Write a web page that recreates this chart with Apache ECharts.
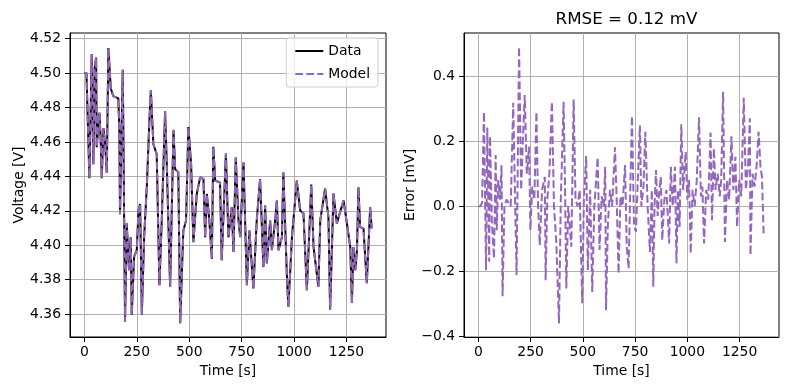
<!DOCTYPE html>
<html>
<head>
<meta charset="utf-8">
<script src="https://cdn.jsdelivr.net/npm/echarts@6/dist/echarts.min.js"></script>
<style>html,body{margin:0;padding:0;background:#fff}#c{width:790px;height:390px}</style>
</head>
<body>
<div id="c"></div>
<script>
// ---- data ----
const timeV = [0,10,19,24,30,35,43,49,56,59,67,72,78,83,91,99,107,114.5,119,126,138,162,167,170,183,186,194,
202,213,221,226,237,250,258,266,274,285,298,310,317,329,345,358,369,385,393,409,425,433,448,457,472,485,496,509,
520,536,552,568,576,584,596,608,615,624,647,655,675,687,703,711,722,735,743,759,775,787,806,822,838,
854,862,870,886,894,910,918,926,942,949,966,973,990,1013,1029,1045,1061,1077,1082,1093,1116,1125,1148,1164,1172,
1188,1204,1236,1252,1268,1276,1283,1292,1300,1307,1315,1331,1347,1363,1370];
const voltageData = [4.500,4.500,4.500,4.439,4.478,4.511,4.447,4.503,4.509,4.457,4.470,4.477,4.461,4.439,4.468,4.459,4.442,4.5146,4.5155,4.491,4.4866,4.4853,4.4664,4.418,4.502,4.466,4.3556,
4.4127,4.3855,4.4047,4.3595,4.3932,4.3971,4.420,4.424,4.3595,4.4047,4.4346,4.472,4.490,4.4587,4.453,4.3768,4.4144,4.478,4.4472,4.3759,4.467,4.4443,4.4423,4.3547,4.4086,4.4144,4.4687,4.4472,
4.4018,4.4298,4.4394,4.4385,4.4047,4.4298,4.4144,4.3922,4.4572,4.4375,4.4365,4.3913,4.4533,4.4047,4.4221,4.3961,4.451,4.4144,4.4047,4.4481,4.3768,4.4086,4.3749,4.4144,4.4385,
4.3874,4.4231,4.3895,4.4144,4.3971,4.4144,4.426,4.3971,4.4047,4.4423,4.3816,4.3643,4.4047,4.4375,4.4202,4.4184,4.3739,4.4202,4.4352,4.399,4.3759,4.4144,4.4329,4.4163,4.3624,
4.430,4.4127,4.426,4.4127,4.399,4.3664,4.399,4.3855,4.3971,4.4336,4.4105,4.4098,4.378,4.4221,4.4098];
// model is indistinguishable from the data at volt scale (error is ~0.1 mV)
const voltageModel = voltageData;

const timeE = [0,10,18,27,37,43,52,56,65,75,83,88,95,104,111,116,125,135,145,155,167,175,183,195,205,213,222,232,243,249,258,268,278,286,294,305,318,322,330,340,352,362,373,386,395,408,415,421,430,445,456,465,475,485,497,505,516,524,535,545,555,571,580,590,600,607,611,620,630,640,654,662,671,680,690,702,710,719,727,735,745,754,763,773,780,790,799,810,821,830,837,843,850,858,865,873,880,890,900,913,921,930,941,948,955,963,971,980,992,1000,1008,1016,1025,1035,1045,1056,1065,1072,1080,1090,1100,1111,1118,1127,1135,1145,1155,1162,1171,1180,1190,1200,1211,1220,1230,1238,1248,1258,1270,1280,1290,1299,1302,1312,1322,1332,1341,1350,1357,1365];
const errorMV = [0,0,0.01,0.29,-0.197,0.242,-0.171,0.215,-0.05,-0.161,0.157,-0.074,0.08,0.02,0.126,-0.277,0,0.02,0.01,0,0.318,0.05,-0.212,0.49,0.05,0.2,0.342,0.1,0.183,-0.074,0.06,0.02,0.29,0,-0.12,0.05,0.09,-0.228,0.02,0.1,0.321,0,-0.11,-0.36,0.03,0.321,0.05,-0.253,0,-0.125,0.328,0.02,0,0.05,-0.299,0.02,0.154,-0.197,0.05,-0.264,0,0.15,-0.135,0.03,0,0.121,-0.32,-0.053,0.05,0,0.181,0.02,-0.207,0.03,0,0.126,-0.125,-0.192,0.05,0.277,-0.06,-0.079,0.08,0.249,0,0.06,0.229,0,-0.141,0.05,-0.248,0,0.111,-0.03,0.04,0.09,-0.105,0.02,0.05,-0.115,0.121,0,0.121,-0.176,0.05,-0.064,0.252,0.05,0.167,0.02,0.08,-0.146,0.05,0,0.08,0.273,0.03,0.06,-0.115,0.05,0.02,0.226,-0.043,0.178,0.05,0.1,0.03,0.08,0.352,-0.11,0.08,0.02,0.215,0.05,0.152,-0.064,0.08,0.03,0.333,0.05,0.12,0.27,-0.151,0.1,0.06,0.13,0.229,0.12,0.09,-0.084];

const xTicks = [0,250,500,750,1000,1250];
const vTicks = [4.36,4.38,4.40,4.42,4.44,4.46,4.48,4.50,4.52];
const eTicks = [-0.4,-0.2,0.0,0.2,0.4];
const titleText = 'RMSE = 0.12 mV';

// ---- chart ----
const F = 'DejaVu Sans';
const FS = 13.9;
const pairs = (a,b) => a.map((t,i)=>[t,b[i]]);
const purple = '#9467bd';

function xAxisCfg(gi){
  return {
    type:'value', gridIndex:gi, min:-68.5, max:1438.5,
    name:'Time [s]', nameLocation:'middle', nameGap:27,
    nameTextStyle:{fontFamily:F,fontSize:FS,color:'#000'},
    axisLine:{show:true,onZero:false,lineStyle:{color:'#000',width:1}},
    axisTick:{show:true,length:5,customValues:xTicks,lineStyle:{color:'#000',width:1}},
    axisLabel:{customValues:xTicks,margin:8,fontFamily:F,fontSize:FS,color:'#000',formatter:v=>String(Math.round(v))},
    splitLine:{show:true,lineStyle:{color:'#b0b0b0',width:1}}
  };
}
function yAxisCfg(gi,min,max,ticks,name,gap,fmt){
  return {
    type:'value', gridIndex:gi, min:min, max:max,
    name:name, nameLocation:'middle', nameGap:gap,
    nameTextStyle:{fontFamily:F,fontSize:FS,color:'#000'},
    axisLine:{show:true,onZero:false,lineStyle:{color:'#000',width:1}},
    axisTick:{show:true,length:5,customValues:ticks,lineStyle:{color:'#000',width:1}},
    axisLabel:{customValues:ticks,margin:9,fontFamily:F,fontSize:FS,color:'#000',formatter:fmt},
    splitLine:{show:true,lineStyle:{color:'#b0b0b0',width:1}}
  };
}

const chart = echarts.init(document.getElementById('c'),null,{renderer:'canvas'});
chart.setOption({
  animation:false,
  backgroundColor:'#fff',
  textStyle:{fontFamily:F},
  title:{text:titleText,left:621.5,top:6,textAlign:'center',
    textStyle:{fontFamily:F,fontSize:16.7,fontWeight:'normal',color:'#000'}},
  legend:{
    data:['Data','Model'], orient:'vertical', right:412, top:38,
    itemWidth:28, itemHeight:12, itemGap:9,
    padding:[6,8,6,8],
    borderColor:'#cfcfcf', borderWidth:1, borderRadius:3,
    backgroundColor:'rgba(255,255,255,0.8)',
    itemStyle:{opacity:0,borderWidth:0},
    textStyle:{fontFamily:F,fontSize:FS,color:'#000'}
  },
  grid:[
    {left:70,top:33,width:316,height:304,show:true,borderColor:'#000',borderWidth:1,backgroundColor:'transparent'},
    {left:464,top:33,width:315,height:304,show:true,borderColor:'#000',borderWidth:1,backgroundColor:'transparent'}
  ],
  xAxis:[xAxisCfg(0),xAxisCfg(1)],
  yAxis:[
    yAxisCfg(0,4.3467,4.5233,vTicks,'Voltage [V]',44,v=>v.toFixed(2)),
    yAxisCfg(1,-0.4025,0.5325,eTicks,'Error [mV]',46,v=>(v<-1e-9?'\u2212'+Math.abs(v).toFixed(1):Math.abs(v).toFixed(1)))
  ],
  series:[
    {name:'Data',type:'line',xAxisIndex:0,yAxisIndex:0,data:pairs(timeV,voltageData),
     symbol:'none',showSymbol:false,lineStyle:{color:'#000',width:2},itemStyle:{color:'#000'},z:3},
    {name:'Model',type:'line',xAxisIndex:0,yAxisIndex:0,data:pairs(timeV,voltageModel),
     symbol:'none',showSymbol:false,lineStyle:{color:purple,width:2,type:[7.7,3.3]},itemStyle:{color:purple},z:4},
    {name:'Error',type:'line',xAxisIndex:1,yAxisIndex:1,data:pairs(timeE,errorMV),
     symbol:'none',showSymbol:false,lineStyle:{color:purple,width:2,type:[7.7,3.3]},itemStyle:{color:purple},z:4}
  ]
});
</script>
</body>
</html>
